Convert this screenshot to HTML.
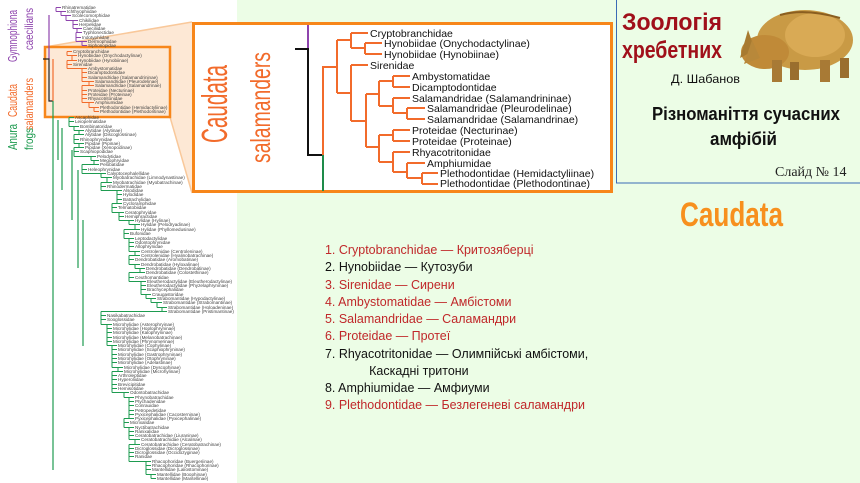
<!DOCTYPE html>
<html><head><meta charset="utf-8"><style>
html,body{margin:0;padding:0;width:860px;height:483px;overflow:hidden;background:#fff}
svg{display:block}
.lf{font-family:"Liberation Sans",sans-serif;font-size:4.6px;fill:#444}
.big{font-family:"Liberation Sans",sans-serif;font-size:10.5px;fill:#111}
.nar{font-family:"Liberation Sans Narrow","Liberation Sans","DejaVu Sans",sans-serif}
.ls{font-family:"Liberation Sans Narrow","Liberation Sans","DejaVu Sans",sans-serif;font-size:13px}
</style></head><body>
<svg id="s" width="860" height="483" viewBox="0 0 860 483" xmlns="http://www.w3.org/2000/svg">
<rect x="237" y="0" width="623" height="483" fill="#ecfde6"/>
<rect x="0" y="0" width="237" height="483" fill="#fff"/>

<polygon points="45,47 192,22 192,193 170,117" fill="#fde6d0" opacity="0.9"/>
<line x1="45" y1="47" x2="192" y2="22" stroke="#f9c89a" stroke-width="1.5"/>
<line x1="170" y1="117" x2="192" y2="193" stroke="#f9c89a" stroke-width="1.5"/>
<rect x="45" y="47" width="125" height="70" fill="#fde9d6" stroke="#f7861a" stroke-width="2.5"/>

<g class="nar">
<text transform="translate(17,62) rotate(-90)" font-size="13" fill="#8e44ad" textLength="52" lengthAdjust="spacingAndGlyphs">Gymnophiona</text>
<text transform="translate(33,50) rotate(-90)" font-size="12" fill="#8e44ad" textLength="42" lengthAdjust="spacingAndGlyphs">caecilians</text>
<text transform="translate(17,117) rotate(-90)" font-size="13" fill="#f26b2b" textLength="33" lengthAdjust="spacingAndGlyphs">Caudata</text>
<text transform="translate(33,130) rotate(-90)" font-size="12" fill="#f26b2b" textLength="52" lengthAdjust="spacingAndGlyphs">salamanders</text>
<text transform="translate(17,150) rotate(-90)" font-size="13" fill="#1e9b50" textLength="26" lengthAdjust="spacingAndGlyphs">Anura</text>
<text transform="translate(33,150) rotate(-90)" font-size="12" fill="#1e9b50" textLength="22" lengthAdjust="spacingAndGlyphs">frogs</text>
</g>

<g fill="none" stroke-width="1.2">
<path d="M49 15 V59" stroke="#8e44ad"/>
<path d="M43 59 H49 V101 H53" stroke="#222"/>
<path d="M53 101 V470" stroke="#1e9b50"/>
<path d="M53 59 V101" stroke="#f26b2b"/>
<path d="M58 120 V160 M62 128 V190 M72 150 V220 M78 170 V268 M83 220 V346" stroke="#1e9b50"/>
</g>

<g id="leaves">
<text class="lf" x="62" y="9">Rhinatrematidae</text>
<text class="lf" x="67" y="13">Ichthyophiidae</text>
<text class="lf" x="72" y="17">Scolecomorphidae</text>
<text class="lf" x="79" y="22">Chikilidae</text>
<text class="lf" x="79" y="26">Herpelidae</text>
<text class="lf" x="83" y="30">Caeciliidae</text>
<text class="lf" x="83" y="34">Typhlonectidae</text>
<text class="lf" x="82" y="39">Indotyphlidae</text>
<text class="lf" x="88" y="43">Dermophiidae</text>
<text class="lf" x="88" y="47">Siphonopidae</text>
<text class="lf" x="73" y="53">Cryptobranchidae</text>
<text class="lf" x="78" y="57">Hynobiidae (Onychodactylinae)</text>
<text class="lf" x="78" y="62">Hynobiidae (Hynobiinae)</text>
<text class="lf" x="73" y="66">Sirenidae</text>
<text class="lf" x="88" y="70">Ambystomatidae</text>
<text class="lf" x="88" y="74">Dicamptodontidae</text>
<text class="lf" x="88" y="79">Salamandridae (Salamandrininae)</text>
<text class="lf" x="95" y="83">Salamandridae (Pleurodelinae)</text>
<text class="lf" x="95" y="87">Salamandridae (Salamandrinae)</text>
<text class="lf" x="88" y="92">Proteidae (Necturinae)</text>
<text class="lf" x="88" y="96">Proteidae (Proteinae)</text>
<text class="lf" x="88" y="100">Rhyacotritonidae</text>
<text class="lf" x="95" y="104">Amphiumidae</text>
<text class="lf" x="100" y="109">Plethodontidae (Hemidactyliinae)</text>
<text class="lf" x="100" y="113">Plethodontidae (Plethodontinae)</text>
<text class="lf" x="75" y="119">Ascaphidae</text>
<text class="lf" x="75" y="123">Leiopelmatidae</text>
<text class="lf" x="80" y="128">Bombinatoridae</text>
<text class="lf" x="85" y="132">Alytidae (Alytinae)</text>
<text class="lf" x="85" y="136">Alytidae (Discoglossinae)</text>
<text class="lf" x="80" y="141">Rhinophrynidae</text>
<text class="lf" x="85" y="145">Pipidae (Pipinae)</text>
<text class="lf" x="85" y="149">Pipidae (Xenopodinae)</text>
<text class="lf" x="80" y="153">Scaphiopodidae</text>
<text class="lf" x="97" y="158">Pelodytidae</text>
<text class="lf" x="100" y="162">Megophryidae</text>
<text class="lf" x="100" y="166">Pelobatidae</text>
<text class="lf" x="88" y="171">Heleophrynidae</text>
<text class="lf" x="107" y="175">Calyptocephalellidae</text>
<text class="lf" x="113" y="179">Myobatrachidae (Limnodynastinae)</text>
<text class="lf" x="113" y="184">Myobatrachidae (Myobatrachinae)</text>
<text class="lf" x="107" y="188">Rhinodermatidae</text>
<text class="lf" x="123" y="192">Alsodidae</text>
<text class="lf" x="123" y="196">Hylodidae</text>
<text class="lf" x="123" y="201">Batrachylidae</text>
<text class="lf" x="123" y="205">Cycloramphidae</text>
<text class="lf" x="118" y="209">Telmatobiidae</text>
<text class="lf" x="125" y="214">Ceratophryidae</text>
<text class="lf" x="125" y="218">Hemiphractidae</text>
<text class="lf" x="135" y="222">Hylidae (Hylinae)</text>
<text class="lf" x="141" y="226">Hylidae (Pelodryadinae)</text>
<text class="lf" x="141" y="231">Hylidae (Phyllomedusinae)</text>
<text class="lf" x="130" y="235">Bufonidae</text>
<text class="lf" x="135" y="240">Leptodactylidae</text>
<text class="lf" x="135" y="244">Odontophrynidae</text>
<text class="lf" x="135" y="248">Allophrynidae</text>
<text class="lf" x="141" y="253">Centrolenidae (Centroleninae)</text>
<text class="lf" x="141" y="257">Centrolenidae (Hyalinobatrachinae)</text>
<text class="lf" x="135" y="261">Dendrobatidae (Aromobatinae)</text>
<text class="lf" x="141" y="266">Dendrobatidae (Hyloxalinae)</text>
<text class="lf" x="146" y="270">Dendrobatidae (Dendrobatinae)</text>
<text class="lf" x="146" y="274">Dendrobatidae (Colostethinae)</text>
<text class="lf" x="135" y="279">Ceuthomantidae</text>
<text class="lf" x="147" y="283">Eleutherodactylidae (Eleutherodactylinae)</text>
<text class="lf" x="147" y="287">Eleutherodactylidae (Phyzelaphryninae)</text>
<text class="lf" x="147" y="291">Brachycephalidae</text>
<text class="lf" x="152" y="296">Craugastoridae</text>
<text class="lf" x="157" y="300">Strabomantidae (Hypodactylinae)</text>
<text class="lf" x="163" y="304">Strabomantidae (Strabomantinae)</text>
<text class="lf" x="168" y="309">Strabomantidae (Holoadeninae)</text>
<text class="lf" x="168" y="313">Strabomantidae (Pristimantinae)</text>
<text class="lf" x="107" y="317">Nasikabatrachidae</text>
<text class="lf" x="107" y="321">Sooglossidae</text>
<text class="lf" x="113" y="326">Microhylidae (Asterophryinae)</text>
<text class="lf" x="113" y="330">Microhylidae (Hoplophryninae)</text>
<text class="lf" x="113" y="334">Microhylidae (Kalophryninae)</text>
<text class="lf" x="113" y="339">Microhylidae (Melanobatrachinae)</text>
<text class="lf" x="113" y="343">Microhylidae (Phrynomerinae)</text>
<text class="lf" x="118" y="347">Microhylidae (Cophylinae)</text>
<text class="lf" x="118" y="351">Microhylidae (Scaphiophryninae)</text>
<text class="lf" x="118" y="356">Microhylidae (Gastrophryninae)</text>
<text class="lf" x="118" y="360">Microhylidae (Otophryninae)</text>
<text class="lf" x="118" y="364">Microhylidae (Adelastinae)</text>
<text class="lf" x="124" y="369">Microhylidae (Dyscophinae)</text>
<text class="lf" x="124" y="373">Microhylidae (Microhylinae)</text>
<text class="lf" x="118" y="377">Arthroleptidae</text>
<text class="lf" x="118" y="381">Hyperoliidae</text>
<text class="lf" x="118" y="386">Brevicipitidae</text>
<text class="lf" x="118" y="390">Hemisotidae</text>
<text class="lf" x="130" y="394">Odontobatrachidae</text>
<text class="lf" x="135" y="399">Phrynobatrachidae</text>
<text class="lf" x="135" y="403">Ptychadenidae</text>
<text class="lf" x="135" y="407">Conrauidae</text>
<text class="lf" x="135" y="412">Petropedetidae</text>
<text class="lf" x="135" y="416">Pyxicephalidae (Cacosterninae)</text>
<text class="lf" x="135" y="420">Pyxicephalidae (Pyxicephalinae)</text>
<text class="lf" x="130" y="424">Micrixalidae</text>
<text class="lf" x="135" y="429">Nyctibatrachidae</text>
<text class="lf" x="135" y="433">Ranixalidae</text>
<text class="lf" x="135" y="437">Ceratobatrachidae (Liuraninae)</text>
<text class="lf" x="141" y="441">Ceratobatrachidae (Alcalinae)</text>
<text class="lf" x="141" y="446">Ceratobatrachidae (Ceratobatrachinae)</text>
<text class="lf" x="135" y="450">Dicroglossidae (Dicroglossinae)</text>
<text class="lf" x="135" y="454">Dicroglossidae (Occidozyginae)</text>
<text class="lf" x="135" y="458">Ranidae</text>
<text class="lf" x="152" y="463">Rhacophoridae (Buergeriinae)</text>
<text class="lf" x="152" y="467">Rhacophoridae (Rhacophorinae)</text>
<text class="lf" x="152" y="471">Mantellidae (Laliostominae)</text>
<text class="lf" x="157" y="476">Mantellidae (Boophinae)</text>
<text class="lf" x="157" y="480">Mantellidae (Mantellinae)</text>
</g>
<g id="tl" fill="none" stroke-width="1"></g>

<rect x="193.5" y="23.5" width="418" height="168" fill="#fff" stroke="#f7861a" stroke-width="3"/>
<text class="nar" transform="translate(227,143) rotate(-90)" font-size="36" fill="#f26b2b" textLength="78" lengthAdjust="spacingAndGlyphs">Caudata</text>
<text class="nar" transform="translate(270,163) rotate(-90)" font-size="28" fill="#f26b2b" textLength="111" lengthAdjust="spacingAndGlyphs">salamanders</text>
<g fill="none" stroke-width="2">
<path d="M308 25 V49" stroke="#8e44ad"/>
<path d="M295 49 H308 V155 H323" stroke="#111"/>
<path d="M323 155 V191" stroke="#1e8b4a"/>
<g stroke="#f26b2b">
<path d="M323 155 V67 H337"/>
<path d="M337 40 V93"/>
<path d="M337 40 H351 M351 33 V48 M351 33 H368 M351 48 H365 M365 43 V54 M365 43 H382 M365 54 H382"/>
<path d="M337 93 H351 M351 65 V121 M351 65 H368 M351 121 H366 M366 94 V147"/>
<path d="M366 94 H379 M379 81 V106 M379 81 H393 M393 76 V87 M393 76 H410 M393 87 H410 M379 106 H393 M393 98 V113 M393 98 H410 M393 113 H407 M407 108 V119 M407 108 H425 M407 119 H425"/>
<path d="M366 147 H379 M379 135 V162 M379 135 H393 M393 130 V141 M393 130 H410 M393 141 H410 M379 162 H393 M393 152 V172 M393 152 H410 M393 172 H407 M407 163 V178 M407 163 H425 M407 178 H422 M422 173 V184 M422 173 H438 M422 184 H438"/>
</g></g>
<g class="big">
<text x="370" y="37">Cryptobranchidae</text>
<text x="384" y="47">Hynobiidae (Onychodactylinae)</text>
<text x="384" y="58">Hynobiidae (Hynobiinae)</text>
<text x="370" y="69">Sirenidae</text>
<text x="412" y="80">Ambystomatidae</text>
<text x="412" y="91">Dicamptodontidae</text>
<text x="412" y="102">Salamandridae (Salamandrininae)</text>
<text x="427" y="112">Salamandridae (Pleurodelinae)</text>
<text x="427" y="123">Salamandridae (Salamandrinae)</text>
<text x="412" y="134">Proteidae (Necturinae)</text>
<text x="412" y="145">Proteidae (Proteinae)</text>
<text x="412" y="156">Rhyacotritonidae</text>
<text x="427" y="167">Amphiumidae</text>
<text x="440" y="177">Plethodontidae (Hemidactyliinae)</text>
<text x="440" y="187">Plethodontidae (Plethodontinae)</text>
</g>

<rect x="616.5" y="-1" width="245" height="184" fill="#ecfde6" stroke="#3a6bb5" stroke-width="1"/>
<g class="nar" font-weight="bold" fill="#a0101a">
<text x="622" y="30" font-size="24" textLength="100" lengthAdjust="spacingAndGlyphs">Зоологія</text>
<text x="622" y="58" font-size="24" textLength="100" lengthAdjust="spacingAndGlyphs">хребетних</text>
</g>
<text class="nar" x="671" y="83" font-size="12" fill="#111" textLength="69" lengthAdjust="spacingAndGlyphs">Д. Шабанов</text>
<g class="nar" font-weight="bold" fill="#111" font-size="18">
<text x="652" y="120" textLength="188" lengthAdjust="spacingAndGlyphs">Різноманіття сучасних</text>
<text x="710" y="145" textLength="67" lengthAdjust="spacingAndGlyphs">амфібій</text>
</g>
<text x="775" y="176" font-family="Liberation Serif,serif" font-size="14" fill="#222">Слайд № 14</text>
<g>
<ellipse cx="805" cy="40" rx="48" ry="30" fill="#c99a45"/>
<ellipse cx="815" cy="35" rx="30" ry="22" fill="#d9aa55"/>
<ellipse cx="765" cy="52" rx="24" ry="17" fill="#c08a38"/>
<path d="M740 58 L748 30 L755 50 Z" fill="#a77a30"/>
<path d="M744 64 L752 40 L760 58 Z" fill="#b8883a"/>
<rect x="772" y="60" width="10" height="22" fill="#a87a35"/>
<rect x="790" y="62" width="9" height="18" fill="#9a6e2e"/>
<rect x="820" y="60" width="10" height="22" fill="#a87a35"/>
<rect x="840" y="58" width="9" height="20" fill="#9a6e2e"/>
<path d="M780 15 Q805 8 840 18" stroke="#8a5e20" stroke-width="2" fill="none"/>
</g>
<text class="nar" x="680" y="226" font-size="34" font-weight="bold" fill="#f7901e" textLength="103" lengthAdjust="spacingAndGlyphs">Caudata</text>

<g class="ls" transform="translate(325,0) scale(0.96,1) translate(-325,0)">
<text x="325" y="254" fill="#c0282a">1. Cryptobranchidae — Критозяберці</text>
<text x="325" y="271" fill="#111">2. Hynobiidae — Кутозуби</text>
<text x="325" y="289" fill="#c0282a">3. Sirenidae — Сирени</text>
<text x="325" y="306" fill="#c0282a">4. Ambystomatidae — Амбістоми</text>
<text x="325" y="323" fill="#c0282a">5. Salamandridae — Саламандри</text>
<text x="325" y="340" fill="#c0282a">6. Proteidae — Протеї</text>
<text x="325" y="358" fill="#111">7. Rhyacotritonidae — Олимпійські амбістоми,</text>
<text x="371" y="375" fill="#111">Каскадні тритони</text>
<text x="325" y="392" fill="#111">8. Amphiumidae — Амфиуми</text>
<text x="325" y="409" fill="#c0282a">9. Plethodontidae — Безлегеневі саламандри</text>
</g>
</svg>
<script>
(function(){
var ns="http://www.w3.org/2000/svg",g=document.getElementById('tl');
var t=[].slice.call(document.querySelectorAll('#leaves text'));
function ln(x1,y1,x2,y2,c){var l=document.createElementNS(ns,'line');l.setAttribute('x1',x1);l.setAttribute('y1',y1);l.setAttribute('x2',x2);l.setAttribute('y2',y2);l.setAttribute('stroke',c);g.appendChild(l);}
for(var i=0;i<t.length;i++){
 var x=+t[i].getAttribute('x'),y=+t[i].getAttribute('y')-1.5;
 var c=i<10?'#8e44ad':(i<25?'#f26b2b':'#1e9b50');
 ln(x-6,y,x-1,y,c);
 if(i+1<t.length&&(i!=9)&&(i!=24)){
  var x2=+t[i+1].getAttribute('x'),y2=+t[i+1].getAttribute('y')-1.5;
  var m=Math.min(x,x2)-6;
  ln(m,y,m,y2,c);ln(m,y,x-6,y,c);ln(m,y2,x2-6,y2,c);
 }
}
})();
</script>
</body></html>
